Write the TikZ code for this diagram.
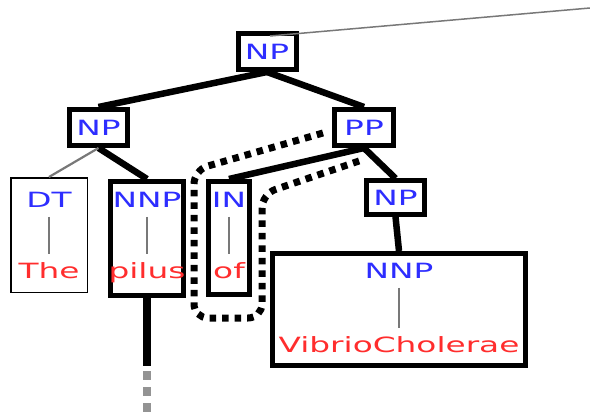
\documentclass[tikz,border=0pt]{standalone}
\usepackage{fontspec}
\setmainfont{DejaVu Sans}[FakeStretch=1.56]
\definecolor{tagblue}{RGB}{45,45,255}
\definecolor{wordred}{RGB}{255,45,45}
\definecolor{linkgrey}{RGB}{120,120,120}

\begin{document}
\begin{tikzpicture}
  [x=1pt,y=-1pt,
   every node/.style={font=\fontsize{21}{24}\selectfont,text height=15.3pt,text depth=0pt,inner ysep=9pt},
   phrase/.style={rectangle,draw=black,line width=5pt,fill=white,text=tagblue,minimum width=58pt,minimum height=36pt},
   leafbox/.style={rectangle,draw=black,line width=5pt,fill=white},
   tag/.style={text=tagblue},
   word/.style={text=wordred},
   branch/.style={line width=6.5pt},
   thinlink/.style={draw=linkgrey,line width=2.2pt}]
  \useasboundingbox (0,0) rectangle (590,412);

  % leaf boxes
  \node[leafbox,line width=1.5pt,minimum width=76.5pt,minimum height=114.5pt] (dtbox) at (49,235) {};
  \node[leafbox,minimum width=73pt,minimum height=114pt] (pilusbox) at (147,238.5) {};
  \node[leafbox,minimum width=41pt,minimum height=113pt] (inbox) at (229,238) {};
  \node[leafbox,minimum width=253pt,minimum height=112pt] (vibriobox) at (399,309.5) {};

  \node[tag] (dt) at (49,200) {DT};
  \node[word] (the) at (49,271) {The};
  \node[tag] (nnp1) at (147,200) {NNP};
  \node[word] (pilus) at (147,271) {pilus};
  \node[tag] (tagin) at (229,200) {IN};
  \node[word] (of) at (229,271) {of};
  \node[tag] (nnp2) at (399,271) {NNP};
  \node[word] (vibrio) at (399,344.5) {VibrioCholerae};

  \foreach \from/\to in {dt/the, nnp1/pilus, tagin/of, nnp2/vibrio}
    \draw[thinlink] (\from.south) -- (\to.north);

  % phrase nodes
  \node[phrase] (np0) at (267,51.5) {NP};
  \node[phrase] (np1) at (98.5,127.5) {NP};
  \node[phrase,minimum width=59pt] (pp) at (364,127.5) {PP};
  \node[phrase,minimum height=32pt] (np2) at (395.5,197.5) {NP};

  \coordinate (root) at (590,8);
  \coordinate (tailend) at (147,366);
  \coordinate (tailfade) at (147,412);

  \foreach \from/\to in {np0/np1, np0/pp, np1/pilusbox, pp/inbox, pp/np2, np2/vibriobox}
    \draw[branch] (\from.south) -- (\to.north);
  \draw[thinlink] (np1.south) -- (dtbox.north);
  \draw[thinlink,line width=1.5pt] ([shift={(3pt,-5pt)}]np0.north) -- (root);

  \draw[line width=8pt] (pilusbox.south) -- (tailend);
  \draw[linkgrey!80,line width=8pt,dash pattern=on 9pt off 7pt,dash phase=11pt] (tailend) -- (tailfade);

  % highlighted span
  \draw[line width=7pt,dash pattern=on 6.5pt off 6pt,rounded corners=14pt]
    (323,133) -- (194,170) -- (194,318) -- (262,318) -- (262,194) -- (362,160);
\end{tikzpicture}
\end{document}
